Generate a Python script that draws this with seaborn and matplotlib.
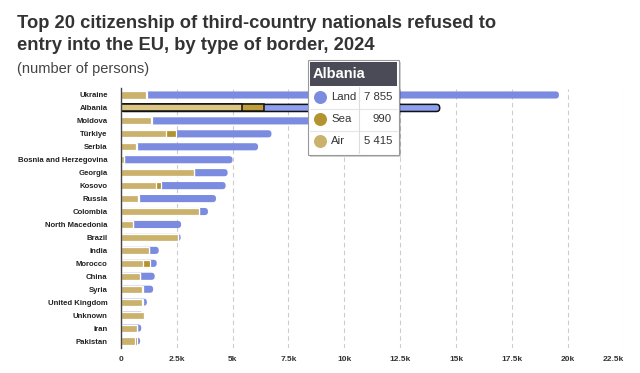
import matplotlib
matplotlib.use("Agg")
import matplotlib.pyplot as plt
import seaborn as sns
import numpy as np
import pandas as pd
from matplotlib.patches import Rectangle, FancyBboxPatch, Ellipse
from matplotlib.lines import Line2D

countries = ["Ukraine", "Albania", "Moldova", "Türkiye", "Serbia",
             "Bosnia and Herzegovina", "Georgia", "Kosovo", "Russia", "Colombia",
             "North Macedonia", "Brazil", "India", "Morocco", "China", "Syria",
             "United Kingdom", "Unknown", "Iran", "Pakistan"]
air = [1150, 5415, 1350, 2020, 690, 150, 3270, 1580, 760, 3480,
       540, 2540, 1270, 1010, 870, 970, 970, 1020, 720, 660]
sea = [40, 990, 30, 430, 20, 10, 20, 230, 60, 0,
       10, 10, 0, 290, 0, 20, 20, 0, 30, 60]
land = [18400, 7855, 7600, 4290, 5430, 4840, 1490, 2880, 3440, 420,
        2150, 130, 430, 310, 650, 460, 180, 0, 170, 150]
xticks = [0, 2500, 5000, 7500, 10000, 12500, 15000, 17500, 20000, 22500]
xticklabels = ["0", "2.5k", "5k", "7.5k", "10k", "12.5k", "15k", "17.5k", "20k", "22.5k"]
tooltip_country = "Albania"
tooltip_rows = [("Land", "7 855"), ("Sea", "990"), ("Air", "5 415")]

C_LAND = "#7b8ce0"
C_SEA = "#b3922f"
C_AIR = "#cbb26c"
H_LAND = "#8f9ff0"
H_SEA = "#bf9f3c"
H_AIR = "#dcc685"

sns.set_style("white")
plt.rcParams["font.family"] = ["Liberation Sans", "DejaVu Sans"]

W, H = 640, 373
fig = plt.figure(figsize=(W / 100, H / 100), dpi=100)


def fx(px):
    return px / W


def fy(py):
    return 1 - py / H


ax = fig.add_axes([fx(120.7), fy(347.5), fx(624) - fx(120.7), fy(88.5) - fy(347.5)])

df = pd.DataFrame({"country": countries, "air": air, "sea": sea, "land": land})
df["airsea"] = df["air"] + df["sea"]
df["total"] = df["airsea"] + df["land"]

bw = 0.55
sns.barplot(data=df, x="total", y="country", orient="h", color=C_LAND, width=bw,
            edgecolor="white", linewidth=0, saturation=1, ax=ax)
sns.barplot(data=df, x="airsea", y="country", orient="h", color=C_SEA, width=bw,
            edgecolor="white", linewidth=0.9, saturation=1, ax=ax)
sns.barplot(data=df, x="air", y="country", orient="h", color=C_AIR, width=bw,
            edgecolor="white", linewidth=0.9, saturation=1, ax=ax)

n = len(countries)
patches = list(ax.patches)
tot_p = patches[0:n]
as_p = patches[n:2 * n]
air_p = patches[2 * n:3 * n]

ax.set_xlim(0, 22500)
ax.set_ylim(n - 0.5, -0.5)
fig.canvas.draw()

# rounded right ends for the stack ends
bbox = ax.get_window_extent()
xu_per_px = 22500 / bbox.width
yu_per_px = n / bbox.height
aspect = yu_per_px / xu_per_px
r = 3.3 * xu_per_px
hi = countries.index(tooltip_country)
for i, p in enumerate(tot_p):
    x0, y0 = p.get_x(), p.get_y()
    w, h = p.get_width(), p.get_height()
    p.set_visible(False)
    fc = H_LAND if i == hi else C_LAND
    ec = "#111111" if i == hi else "none"
    fb = FancyBboxPatch((x0, y0), w, h, boxstyle=f"round,pad=0,rounding_size={r}",
                        mutation_aspect=aspect, facecolor=fc, edgecolor=ec,
                        linewidth=1.1, zorder=p.get_zorder())
    ax.add_patch(fb)
    as_p[i].set_zorder(p.get_zorder() + 0.1)
    air_p[i].set_zorder(p.get_zorder() + 0.2)

as_p[hi].set_facecolor(H_SEA)
as_p[hi].set_edgecolor("#111111")
as_p[hi].set_linewidth(1.1)
air_p[hi].set_facecolor(H_AIR)
air_p[hi].set_edgecolor("#111111")
air_p[hi].set_linewidth(1.1)

ax.set_xlabel("")
ax.set_ylabel("")
ax.set_xticks(xticks)
ax.set_xticklabels(xticklabels, fontsize=6, fontweight="bold", color="#333333")
ax.get_xticklabels()[-1].set_horizontalalignment("right")
ax.xaxis.grid(True, linestyle=(0, (4, 3)), color="#cccccc", linewidth=0.8)
ax.set_axisbelow(True)
ax.tick_params(axis="x", length=0, pad=6)
ax.tick_params(axis="y", which="major", length=0, pad=9.5)
ax.set_yticks(np.arange(-0.5, n, 1.0), minor=True)
ax.tick_params(axis="y", which="minor", length=5, color="#ccd6eb", width=0.8)
for lab in ax.get_yticklabels():
    lab.set_fontsize(5.6)
    lab.set_fontweight("bold")
    lab.set_color("#222222")
for s in ["top", "right", "bottom"]:
    ax.spines[s].set_visible(False)
ax.spines["left"].set_color("#444444")
ax.spines["left"].set_linewidth(1.0)

# titles
fig.text(fx(17), fy(28.5), "Top 20 citizenship of third-country nationals refused to",
         fontsize=13.2, fontweight="bold", color="#333333", va="baseline")
fig.text(fx(17), fy(50.5), "entry into the EU, by type of border, 2024",
         fontsize=13.2, fontweight="bold", color="#333333", va="baseline")
fig.text(fx(17), fy(73), "(number of persons)", fontsize=10.5, color="#444444",
         va="baseline")

# tooltip
tx0, tx1, ty0, ty1 = 308, 399, 60, 155
fig.patches.append(Rectangle((fx(tx0 + 2), fy(ty1 + 2)), fx(tx1) - fx(tx0), fy(ty0) - fy(ty1),
                             transform=fig.transFigure, facecolor="#000000", alpha=0.18,
                             edgecolor="none", zorder=5))
fig.patches.append(Rectangle((fx(tx0), fy(ty1)), fx(tx1) - fx(tx0), fy(ty0) - fy(ty1),
                             transform=fig.transFigure, facecolor="white",
                             edgecolor="#999999", linewidth=0.8, zorder=6))
fig.patches.append(Rectangle((fx(tx0 + 2), fy(86)), fx(tx1 - 2) - fx(tx0 + 2), fy(62) - fy(86),
                             transform=fig.transFigure, facecolor="#4b4b57",
                             edgecolor="none", zorder=7))
fig.text(fx(313), fy(74), tooltip_country, fontsize=10.5, fontweight="bold", color="white",
         va="center", zorder=8)
row_y = [97.5, 119.5, 141.5]
row_c = [C_LAND, C_SEA, C_AIR]
for k, ((lab, val), yy, cc) in enumerate(zip(tooltip_rows, row_y, row_c)):
    fig.patches.append(Ellipse((fx(320.5), fy(yy)), 13 / W, 13 / H, transform=fig.transFigure,
                               facecolor=cc, edgecolor="none", zorder=8))
    fig.text(fx(331), fy(yy), lab, fontsize=8.2, color="#333333", va="center", zorder=8)
    fig.text(fx(392), fy(yy), val, fontsize=8.2, color="#333333", va="center", ha="right",
             zorder=8)
for yy in [108.5, 130.5]:
    fig.lines.append(Line2D([fx(tx0 + 2), fx(tx1 - 2)], [fy(yy), fy(yy)],
                            transform=fig.transFigure, color="#e6e6e6", linewidth=0.8,
                            zorder=8))
fig.lines.append(Line2D([fx(359), fx(359)], [fy(87), fy(153)], transform=fig.transFigure,
                        color="#dddddd", linewidth=0.8, zorder=8))

fig.savefig("out.png", dpi=100)
